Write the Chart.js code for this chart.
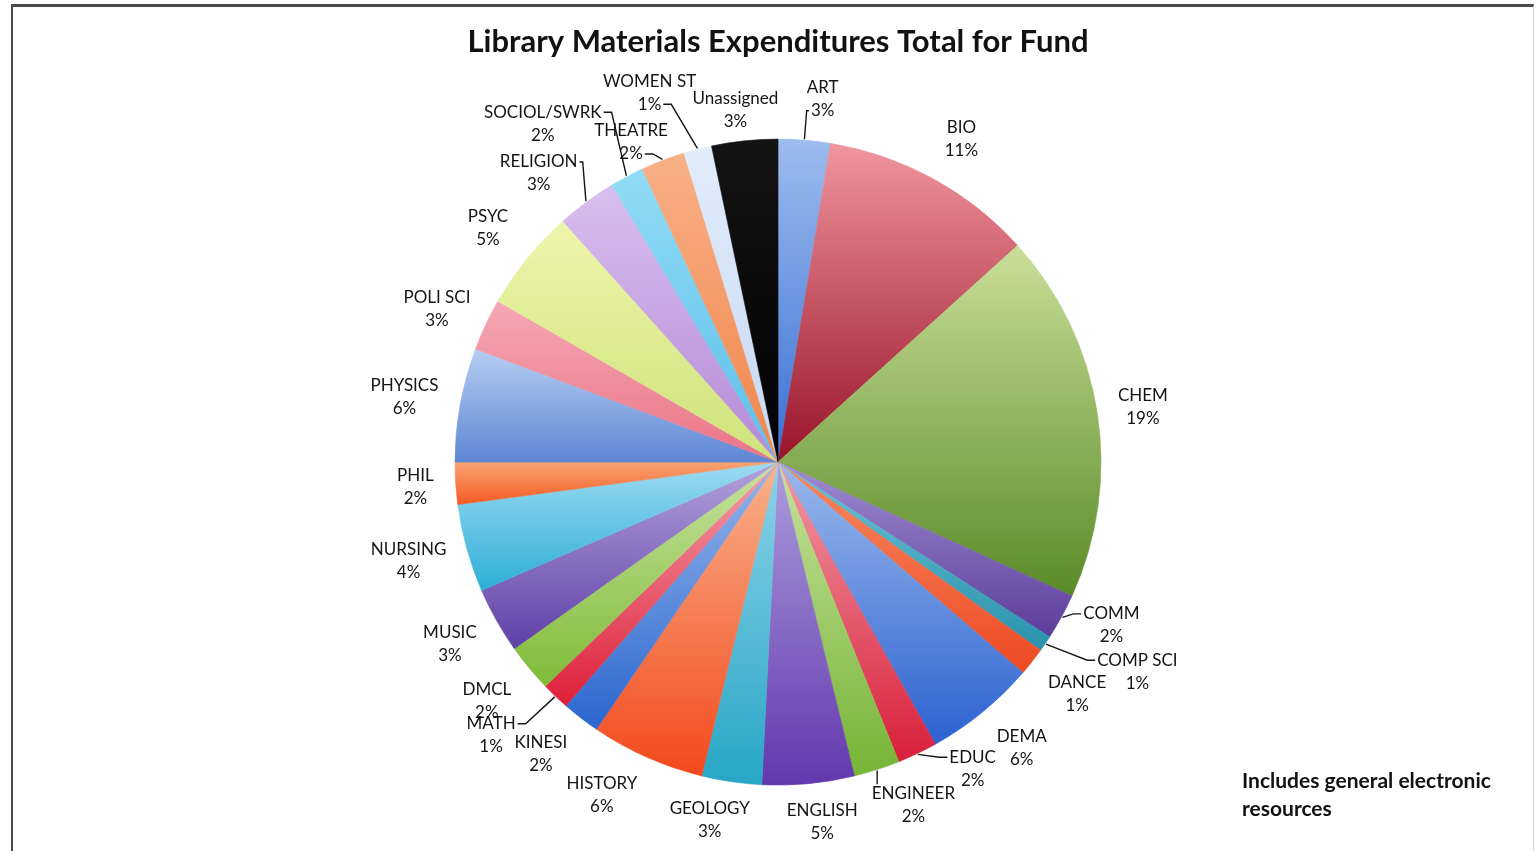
<!DOCTYPE html>
<html>
<head>
<meta charset="utf-8">
<script src="https://cdn.jsdelivr.net/npm/chart.js@4.4.1/dist/chart.umd.min.js"></script>
<style>
  body { margin: 0; background: #fff; }
  #wrap { position: relative; width: 1538px; height: 851px; overflow: hidden; }
  #frame { position: absolute; left: 11px; top: 4px; width: 1520px; height: 860px;
           border-left: 2px solid #4a4a4a; border-top: 3px solid #4a4a4a; border-right: 1px solid #d0d0d0; }
  #note { position: absolute; left: 1242px; top: 766px; font: bold 21px Lato, sans-serif;
          line-height: 28px; color: #121212; }
</style>
</head>
<body>
<div id="wrap">
  <div id="frame"></div>
  <canvas id="pie" width="1538" height="851"></canvas>
  <div id="note">Includes general electronic<br>resources</div>
</div>
<script>
// categories, clockwise from 12 o'clock
var categories = ['ART', 'BIO', 'CHEM', 'COMM', 'COMP SCI', 'DANCE', 'DEMA', 'EDUC', 'ENGINEER',
  'ENGLISH', 'GEOLOGY', 'HISTORY', 'KINESI', 'MATH', 'DMCL', 'MUSIC', 'NURSING', 'PHIL',
  'PHYSICS', 'POLI SCI', 'PSYC', 'RELIGION', 'SOCIOL/SWRK', 'THEATRE', 'WOMEN ST', 'Unassigned']

// share of total expenditures (percent)
var shares = [2.6, 10.7, 18.5, 2.3, 0.8, 1.4, 5.6, 2.0, 2.3,
  4.6, 3.0, 5.7, 1.9, 1.4, 2.4, 3.3, 4.4, 2.1,
  5.7, 2.6, 5.1, 3.0, 1.7, 2.2, 1.4, 3.3]

// slice colours: light (top of slice) -> base (bottom of slice)
var topColors = ['#9dbcef', '#f0959e', '#c9df98', '#a08cd2', '#6cc2d6', '#f68a62', '#9ab8ec', '#f09aa6', '#c6e19c',
  '#ad9ddc', '#8cd2e8', '#f9b28c', '#96b6ea', '#f3a0ac', '#c8e2a0', '#b3a2dc', '#9ddbf2', '#f9a474',
  '#b6cef2', '#f5a8b4', '#eef5ac', '#d8bfee', '#92dbf6', '#f9b086', '#e2edfb', '#141414']
var baseColors = ['#3a70d2', '#98132a', '#5a8a28', '#5c3c9a', '#2a92ac', '#ee4a24', '#2c62d0', '#d91f3a', '#76b436',
  '#6238ae', '#27a6c6', '#f3481c', '#2a66cf', '#de1f38', '#7fbb37', '#5f3fa6', '#2eaed7', '#f45a22',
  '#5e86d4', '#ea7486', '#cfe27a', '#b48ad6', '#5cbfe8', '#f0864c', '#c6d8f3', '#000000']

// label tweaks relative to the default outside-end spot
var labelNudge = [[15, -1], [8, -2], [2, 1], [5, -16], [45, -4], [3, -1], [10, 0], [37, -23], [24, -4],
  [10, -2], [-16, -2], [-28, -1], [-12, 0], [-31, 4], [-3, 1], [-3, -1], [-2, -3], [-3, 1],
  [-3, 2], [2, 8], [-4, -2], [-21, 8], [-64, -15], [-17, 21], [-38, -17], [-5, 9]]
var withLeader = ['ART', 'COMM', 'COMP SCI', 'EDUC', 'ENGINEER', 'MATH', 'RELIGION', 'SOCIOL/SWRK', 'THEATRE', 'WOMEN ST']

var total = shares.reduce(function (a, b) { return a + b }, 0)

function inArc(a, s, e) {
  return (a >= s && a <= e)
}

var sliceGradient = {
  id: 'sliceGradient',
  beforeDatasetsDraw: function (chart) {
    var ctx = chart.ctx
    chart.getDatasetMeta(0).data.forEach(function (arc, i) {
      var p = arc.getProps(['x', 'y', 'startAngle', 'endAngle', 'outerRadius'], true)
      var ys = [p.y, p.y + p.outerRadius * Math.sin(p.startAngle), p.y + p.outerRadius * Math.sin(p.endAngle)]
      if (inArc(-Math.PI / 2, p.startAngle, p.endAngle) || inArc(Math.PI * 1.5, p.startAngle, p.endAngle)) ys.push(p.y - p.outerRadius)
      if (inArc(Math.PI / 2, p.startAngle, p.endAngle)) ys.push(p.y + p.outerRadius)
      var y0 = Math.min.apply(null, ys)
      var y1 = Math.max.apply(null, ys)
      var g = ctx.createLinearGradient(0, y0, 0, y1 + 0.01)
      g.addColorStop(0, topColors[i])
      g.addColorStop(1, baseColors[i])
      arc.options.backgroundColor = g
      arc.options.borderColor = g
    })
  }
}

var outsideLabels = {
  id: 'outsideLabels',
  afterDatasetsDraw: function (chart) {
    var ctx = chart.ctx
    ctx.save()
    ctx.font = '17px Lato, sans-serif'
    ctx.textAlign = 'center'
    ctx.textBaseline = 'middle'
    chart.getDatasetMeta(0).data.forEach(function (arc, i) {
      var p = arc.getProps(['x', 'y', 'startAngle', 'endAngle', 'outerRadius'], true)
      var mid = (p.startAngle + p.endAngle) / 2
      var ux = Math.cos(mid), uy = Math.sin(mid)
      var rimX = p.x + p.outerRadius * ux, rimY = p.y + p.outerRadius * uy
      var name = categories[i]
      var pct = Math.round(shares[i] / total * 100) + '%'
      var hw = Math.max(ctx.measureText(name).width, ctx.measureText(pct).width) / 2 + 1
      var hh = 22
      var ext = Math.min(Math.abs(ux) > 1e-6 ? hw / Math.abs(ux) : 1e9, Math.abs(uy) > 1e-6 ? hh / Math.abs(uy) : 1e9)
      var cx = rimX + (ext + 18) * ux + labelNudge[i][0]
      var cy = rimY + (ext + 18) * uy + labelNudge[i][1]

      if (withLeader.indexOf(name) >= 0) {
        var ax = p.x + (p.outerRadius + 1) * ux, ay = p.y + (p.outerRadius + 1) * uy
        // attach to whichever text line is closest
        var best = null
        ;[[name, cy - 11.5], [pct, cy + 11.5]].forEach(function (ln) {
          var w = ctx.measureText(ln[0]).width / 2 + 2
          var b = { x0: cx - w, x1: cx + w, y0: ln[1] - 9, y1: ln[1] + 9, ly: ln[1] }
          var nx = Math.min(Math.max(ax, b.x0), b.x1), ny = Math.min(Math.max(ay, b.y0), b.y1)
          b.d = Math.hypot(ax - nx, ay - ny)
          if (!best || b.d < best.d) best = b
        })
        ctx.strokeStyle = '#161616'
        ctx.lineWidth = 1.4
        ctx.beginPath()
        ctx.moveTo(ax, ay)
        if (ax < best.x0 || ax > best.x1) {
          var ex = ax < best.x0 ? best.x0 : best.x1
          var hook = Math.min(8, Math.abs(ax - ex) / 2) * (ax < best.x0 ? -1 : 1)
          ctx.lineTo(ex + hook, best.ly)
          ctx.lineTo(ex, best.ly)
        } else {
          ctx.lineTo(ax, ay < best.y0 ? best.y0 : best.y1)
        }
        ctx.stroke()
      }
      ctx.fillStyle = '#141414'
      ctx.fillText(name, cx, cy - 11.5)
      ctx.fillText(pct, cx, cy + 11.5)
    })
    ctx.restore()
  }
}

var ctx = document.getElementById('pie').getContext('2d')
var pieChart = new Chart(ctx, {
  type: 'pie',
  data: {
    labels: categories,
    datasets: [{
      data: shares,
      backgroundColor: baseColors,
      borderWidth: 0.6,
      radius: 323
    }]
  },
  options: {
    responsive: false,
    animation: false,
    events: [],
    layout: { padding: { left: 455, right: 437, top: 0, bottom: 66 } },
    plugins: {
      legend: { display: false },
      tooltip: { enabled: false },
      title: {
        display: true,
        text: 'Library Materials Expenditures Total for Fund',
        color: '#121212',
        font: { family: 'Lato', size: 31, weight: 'bold', lineHeight: 1.2 },
        padding: { top: 23, bottom: 79 }
      }
    }
  },
  plugins: [sliceGradient, outsideLabels]
})
</script>
</body>
</html>
